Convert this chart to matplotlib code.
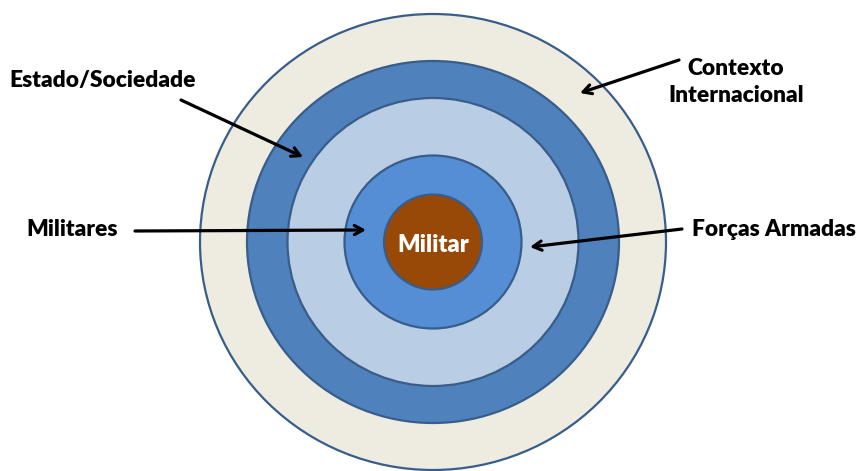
import matplotlib
matplotlib.use("Agg")
import matplotlib.pyplot as plt
from matplotlib.patches import Ellipse

# Data: concentric rings (outer -> inner)
ring_names = ["Contexto Internacional", "Estado/Sociedade", "Forças Armadas", "Militares", "Militar"]
ring_widths = [466, 372, 291, 177, 98]
ring_heights = [456, 362, 288, 173, 95]
ring_colors = ["#EEECE1", "#4F81BD", "#B9CDE5", "#558ED5", "#984807"]
center = (433, 242)

labels = ["Contexto\nInternacional", "Estado/Sociedade", "Militares", "Forças Armadas"]
label_pos = [(736, 82), (103, 81), (72, 229), (774, 229)]
arrow_tail = [(679, 60), (181, 100), (135, 231), (682, 229)]
arrow_head = [(580, 93), (303, 157), (366, 230), (530, 247)]

fig = plt.figure(figsize=(8.58, 4.71), dpi=100)
ax = fig.add_axes([0, 0, 1, 1])
ax.set_xlim(0, 858)
ax.set_ylim(471, 0)
ax.set_aspect("equal")
ax.axis("off")

for w, h, c in zip(ring_widths, ring_heights, ring_colors):
    ax.add_patch(Ellipse(center, w, h, facecolor=c, edgecolor="#385D8A", lw=1.6))

font = ["Lato", "DejaVu Sans"]
ax.text(center[0], center[1] + 3, ring_names[-1], color="white", fontsize=17,
        fontweight="heavy", ha="center", va="center", family=font)

for lab, (x, y) in zip(labels, label_pos):
    ax.text(x, y, lab, fontsize=16.4, fontweight="heavy", ha="center", va="center",
            family=font, color="black", linespacing=1.3)

for t, hd in zip(arrow_tail, arrow_head):
    ax.annotate("", xy=hd, xytext=t,
                arrowprops=dict(arrowstyle="->,head_length=0.6,head_width=0.33",
                                lw=2.3, color="black", shrinkA=0, shrinkB=0))

fig.savefig("out.png", dpi=100)
